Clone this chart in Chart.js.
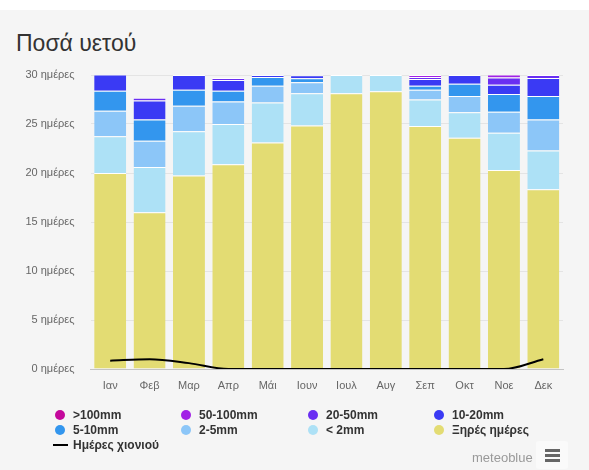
<!DOCTYPE html>
<html>
<head>
<meta charset="utf-8">
<script src="https://cdn.jsdelivr.net/npm/chart.js@4/dist/chart.umd.min.js"></script>
<style>
html,body{margin:0;padding:0;background:#f5f5f5;}
#wrap{position:relative;width:589px;height:470px;background:#f5f5f5;overflow:hidden;font-family:"Liberation Sans",Arial,sans-serif;}
#topstrip{position:absolute;left:0;top:0;width:589px;height:10px;background:#fff;}
#title{position:absolute;left:16px;top:30px;font-size:23px;line-height:26px;color:#333;white-space:nowrap;}
#c{position:absolute;left:0;top:0;}
.lg{position:absolute;font-size:12px;font-weight:bold;color:#333;line-height:14px;white-space:nowrap;}
.dot{position:absolute;width:10px;height:10px;border-radius:50%;}
.ln{position:absolute;width:15px;height:2px;background:#000;}
#credit{position:absolute;left:472px;top:450px;font-size:13px;color:#999;line-height:16px;}
#menu{position:absolute;left:536px;top:441px;width:32px;height:28px;background:#fafafa;border-radius:3px;}
.bar3{position:absolute;left:9px;width:15px;height:3px;background:#666;}
</style>
</head>
<body>
<div id="wrap">
  <div id="topstrip"></div>
  <div id="title">Ποσά υετού</div>
  <canvas id="c" width="589" height="470"></canvas>
  <div id="legend"></div>
  <div id="credit">meteoblue</div>
  <div id="menu"><div class="bar3" style="top:8px"></div><div class="bar3" style="top:13px"></div><div class="bar3" style="top:18px"></div></div>
</div>
<script>
// ---- data ----
const months = ['Ιαν','Φεβ','Μαρ','Απρ','Μάι','Ιουν','Ιουλ','Αυγ','Σεπ','Οκτ','Νοε','Δεκ'];
const yTicks = [0, 5, 10, 15, 20, 25, 30];
const yUnit = 'ημέρες';

const dryDays   = [20.0, 16.0, 19.75, 20.9, 23.1, 24.85, 28.15, 28.35, 24.8, 23.6, 20.3, 18.35];
const under2mm  = [3.75, 4.6, 4.5, 4.1, 4.1, 3.3, 1.85, 1.65, 2.7, 2.6, 3.8, 3.95];
const mm2to5    = [2.6, 2.7, 2.6, 2.3, 1.7, 1.1, 0, 0, 1.0, 1.65, 2.15, 3.15];
const mm5to10   = [2.05, 2.15, 1.65, 1.1, 0.9, 0.43, 0, 0, 0.4, 1.25, 1.8, 2.4];
const mm10to20  = [1.65, 1.95, 1.5, 1.1, 0.2, 0.3, 0, 0, 0.7, 0.9, 0.95, 1.85];
const mm20to50  = [0, 0.27, 0, 0.2, 0, 0, 0, 0, 0.2, 0, 0.75, 0.3];
const mm50to100 = [0, 0, 0, 0, 0, 0, 0, 0, 0.2, 0, 0.3, 0];
const over100mm = [0, 0, 0, 0, 0, 0, 0, 0, 0, 0, 0, 0];
const snowDays  = [0.85, 1.0, 0.6, 0, 0, 0, 0, 0, 0, 0, 0, 1.0];

// legend order (as shown) with colours
const seriesLabels = ['>100mm','50-100mm','20-50mm','10-20mm','5-10mm','2-5mm','< 2mm','Ξηρές ημέρες'];
const seriesColors = ['#c4099c','#a221e6','#6a2ef2','#3a3af4','#3396ee','#8cc6f8','#ade1f6','#e3dc73'];
const seriesData   = [over100mm, mm50to100, mm20to50, mm10to20, mm5to10, mm2to5, under2mm, dryDays];
const snowLabel = 'Ημέρες χιονιού';

// ---- chart ----
const barSets = [];
for (let i = seriesLabels.length - 1; i >= 0; i--) {
  barSets.push({
    type: 'bar',
    label: seriesLabels[i],
    data: seriesData[i],
    backgroundColor: seriesColors[i],
    borderColor: '#ffffff',
    borderWidth: {top: 1, left: 0, right: 0, bottom: 0},
    borderSkipped: 'start',
    barPercentage: 0.813,
    categoryPercentage: 1.0,
    order: 1
  });
}
const lineSet = {
  type: 'line',
  label: snowLabel,
  data: snowDays,
  borderColor: '#000',
  borderWidth: 2,
  pointRadius: 0,
  fill: false,
  cubicInterpolationMode: 'monotone',
  order: 0
};

const FONT = '"Liberation Sans", Arial, sans-serif';
new Chart(document.getElementById('c'), {
  data: { labels: months, datasets: [...barSets, lineSet] },
  options: {
    responsive: false,
    animation: false,
    events: [],
    layout: { padding: { top: 75, right: 26, left: 0, bottom: 0 } },
    plugins: { legend: { display: false }, tooltip: { enabled: false }, title: { display: false } },
    scales: {
      x: {
        stacked: true,
        grid: { display: false, drawTicks: false },
        border: { display: true, color: '#c4c4c4', width: 1 },
        ticks: { color: '#666', font: { family: FONT, size: 11 }, padding: 10, maxRotation: 0, autoSkip: false },
        afterFit: s => { s.height = 101; }
      },
      y: {
        stacked: true,
        min: 0, max: 30,
        afterBuildTicks: s => { s.ticks = yTicks.map(v => ({ value: v })); },
        grid: { color: '#e4e4e4', lineWidth: 1, drawTicks: false },
        border: { display: false },
        ticks: { color: '#666', font: { family: FONT, size: 11 }, padding: 16, callback: v => v + ' ' + yUnit },
        afterFit: s => { s.width = 90.5; }
      }
    }
  }
});

// ---- legend (HTML) ----
const lg = document.getElementById('legend');
const colX = [60, 186, 313, 439];
const rowY = [415, 430, 445];
seriesLabels.forEach((lab, i) => {
  const cx = colX[i % 4], cy = rowY[Math.floor(i / 4)];
  const d = document.createElement('div');
  d.className = 'dot'; d.style.left = (cx - 5) + 'px'; d.style.top = (cy - 5) + 'px';
  d.style.background = seriesColors[i];
  lg.appendChild(d);
  const t = document.createElement('div');
  t.className = 'lg'; t.style.left = (cx + 13) + 'px'; t.style.top = (cy - 7) + 'px';
  t.textContent = lab;
  lg.appendChild(t);
});
const l = document.createElement('div');
l.className = 'ln'; l.style.left = '53px'; l.style.top = (rowY[2] - 1) + 'px';
lg.appendChild(l);
const lt = document.createElement('div');
lt.className = 'lg'; lt.style.left = '73px'; lt.style.top = (rowY[2] - 7) + 'px';
lt.textContent = snowLabel;
lg.appendChild(lt);
</script>
</body>
</html>
